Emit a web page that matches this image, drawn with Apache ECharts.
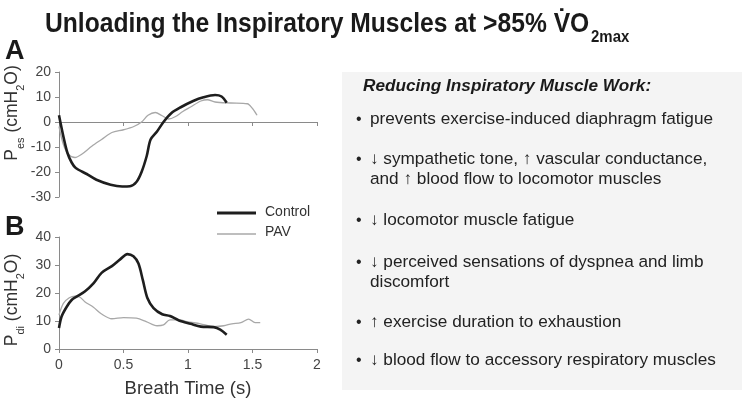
<!DOCTYPE html>
<html><head><meta charset="utf-8">
<script src="https://cdn.jsdelivr.net/npm/echarts@6/dist/echarts.min.js"></script>
<style>html,body{margin:0;padding:0;background:#fff;}#c{width:742px;height:401px;}</style>
</head><body><div id="c"></div>
<script>
// Panel A (Pes) data
const ctrlA_t = [0, 0.034, 0.065, 0.098, 0.13, 0.215, 0.29, 0.40, 0.49, 0.55, 0.60, 0.64, 0.68, 0.71, 0.76, 0.81, 0.87, 0.94, 1.04, 1.12, 1.21, 1.26, 1.30];
const ctrlA_y = [2.7, -5.8, -12.3, -16.2, -18.4, -20.8, -23.1, -25.1, -25.8, -25.7, -24, -20, -13.6, -7, -3.8, 0, 3.5, 5.8, 8.4, 9.9, 10.8, 10.2, 7.7];
const pavA_t = [0, 0.034, 0.072, 0.124, 0.176, 0.254, 0.33, 0.41, 0.50, 0.58, 0.64, 0.69, 0.746, 0.80, 0.85, 0.90, 0.96, 1.02, 1.10, 1.15, 1.21, 1.33, 1.46, 1.50, 1.535];
const pavA_y = [-1.8, -9, -12.9, -14.2, -12.9, -9.7, -7, -4.2, -3.1, -1.8, 0, 2.7, 3.8, 2.5, 1.2, 2.1, 4.2, 6, 8.4, 8.9, 8, 7.6, 7.3, 5.4, 2.7];
// Panel B (Pdi) data
const ctrlB_t = [0, 0.02, 0.06, 0.098, 0.137, 0.20, 0.267, 0.33, 0.41, 0.474, 0.53, 0.577, 0.616, 0.65, 0.686, 0.733, 0.80, 0.86, 0.93, 1.02, 1.10, 1.20, 1.25, 1.30];
const ctrlB_y = [7.5, 11.6, 15.1, 17.5, 18.7, 20.5, 23.4, 27.2, 29.6, 32, 33.9, 33.1, 30.5, 24.6, 18.1, 14.6, 12.4, 11.8, 10.2, 9, 8, 7.8, 6.9, 5.1];
const pavB_t = [0, 0.034, 0.08, 0.124, 0.163, 0.20, 0.267, 0.33, 0.41, 0.50, 0.60, 0.676, 0.76, 0.81, 0.86, 0.94, 0.99, 1.096, 1.20, 1.277, 1.34, 1.41, 1.47, 1.52, 1.56];
const pavB_y = [12.2, 16.3, 18.3, 18.9, 18.5, 16.9, 14.9, 12.5, 10.8, 11.2, 11, 9.8, 8.3, 8.6, 10.4, 10.4, 9.8, 9, 8, 8.3, 9, 9.4, 10.7, 9.4, 9.4];

const seriesNames = ['Control', 'PAV'];
const xTickLabels = ['0', '0.5', '1', '1.5', '2'];
const titleMain = 'Unloading the Inspiratory Muscles at >85% ';
const heading = 'Reducing Inspiratory Muscle Work:';
const bullets = [
  ['prevents exercise-induced diaphragm fatigue'],
  ['\u2193 sympathetic tone, \u2191 vascular conductance,', 'and \u2191 blood flow to locomotor muscles'],
  ['\u2193 locomotor muscle fatigue'],
  ['\u2193 perceived sensations of dyspnea and limb', 'discomfort'],
  ['\u2191 exercise duration to exhaustion'],
  ['\u2193 blood flow to accessory respiratory muscles']
];

const zip = (a, b) => a.map((v, i) => [v, b[i]]);
const FONT = 'Liberation Sans, Arial, sans-serif';
const axisCol = '#8a8a8a';
const labCol = '#444';

const chart = echarts.init(document.getElementById('c'), null, {renderer: 'canvas'});

const ctrlStyle = {color: '#1e1e1e', width: 2.6};
const pavStyle = {color: '#a8a8a8', width: 1.3};

function xAx(idx, showLabels) {
  return {
    gridIndex: idx, type: 'value', min: 0, max: 2, interval: 0.5,
    axisLine: {show: true, onZero: true, lineStyle: {color: axisCol, width: 1}},
    axisTick: {show: true, length: 4, lineStyle: {color: axisCol}},
    splitLine: {show: false},
    axisLabel: {show: showLabels, color: labCol, fontSize: 14, fontFamily: FONT, margin: 9,
      formatter: v => xTickLabels[Math.round(v / 0.5)]},
    name: showLabels ? 'Breath Time (s)' : '', nameLocation: 'middle', nameGap: 30,
    nameTextStyle: {color: '#333', fontSize: 18.5, fontFamily: FONT}
  };
}
function yAx(idx, min, max) {
  return {
    gridIndex: idx, type: 'value', min: min, max: max, interval: 10,
    axisLine: {show: true, lineStyle: {color: axisCol, width: 1}},
    axisTick: {show: true, length: 4, lineStyle: {color: axisCol}},
    splitLine: {show: false},
    axisLabel: {color: labCol, fontSize: 14, fontFamily: FONT, margin: 8}
  };
}

const TF = 'Liberation Sans, Arial, sans-serif';
const graphics = [
  {type: 'rect', shape: {x: 342, y: 72, width: 400, height: 318}, style: {fill: '#f4f4f4'}, z: -10},
  {type: 'text', x: 45, y: 38, scaleX: 0.88, style: {
    text: '{t|' + titleMain + 'V\u0307O}{s|2max}',
    textVerticalAlign: 'bottom',
    rich: {
      t: {fontFamily: TF, fontWeight: 'bold', fontSize: 28, fill: '#1a1a1a', lineHeight: 30, verticalAlign: 'bottom'},
      s: {fontFamily: TF, fontWeight: 'bold', fontSize: 17, fill: '#1a1a1a', lineHeight: 30, verticalAlign: 'bottom', padding: [0, 0, -8, 2]}
    }}},
  {type: 'text', x: 5, y: 65, style: {text: 'A', font: 'bold 27px ' + FONT, fill: '#1a1a1a', textVerticalAlign: 'bottom'}},
  {type: 'text', x: 5, y: 241, style: {text: 'B', font: 'bold 27px ' + FONT, fill: '#1a1a1a', textVerticalAlign: 'bottom'}},
  {type: 'text', x: 11, y: 113, rotation: Math.PI / 2, style: {
    text: '{m|P}{s|es}{m| (cmH}{s|2}{m|O)}', textAlign: 'center', textVerticalAlign: 'middle',
    rich: {m: {fontSize: 17.5, fontFamily: FONT, fill: '#333', lineHeight: 20, verticalAlign: 'bottom'},
           s: {fontSize: 11, fontFamily: FONT, fill: '#333', lineHeight: 20, verticalAlign: 'bottom', padding: [0, 0, -5, 0]}}}},
  {type: 'text', x: 11, y: 300, rotation: Math.PI / 2, style: {
    text: '{m|P}{s|di}{m| (cmH}{s|2}{m|O)}', textAlign: 'center', textVerticalAlign: 'middle',
    rich: {m: {fontSize: 17.5, fontFamily: FONT, fill: '#333', lineHeight: 20, verticalAlign: 'bottom'},
           s: {fontSize: 11, fontFamily: FONT, fill: '#333', lineHeight: 20, verticalAlign: 'bottom', padding: [0, 0, -5, 0]}}}},
  {type: 'text', x: 363, y: 95, style: {text: heading, font: 'italic bold 17.2px ' + FONT, fill: '#1a1a1a', textVerticalAlign: 'bottom'}},
  // legend
  {type: 'line', shape: {x1: 217, y1: 213, x2: 256, y2: 213}, style: {stroke: ctrlStyle.color, lineWidth: 3}},
  {type: 'text', x: 265, y: 212, style: {text: seriesNames[0], font: '14px ' + FONT, fill: '#333', textVerticalAlign: 'middle'}},
  {type: 'line', shape: {x1: 217, y1: 234, x2: 256, y2: 234}, style: {stroke: pavStyle.color, lineWidth: 1.4}},
  {type: 'text', x: 265, y: 232, style: {text: seriesNames[1], font: '14px ' + FONT, fill: '#333', textVerticalAlign: 'middle'}}
];
const bulletBase = [[128], [168, 188], [229], [271, 291], [331], [369]];
bullets.forEach((lines, i) => {
  graphics.push({type: 'text', x: 356, y: bulletBase[i][0], style: {text: '\u2022', font: '16px ' + FONT, fill: '#222', textVerticalAlign: 'bottom'}});
  lines.forEach((ln, j) => {
    graphics.push({type: 'text', x: 370, y: bulletBase[i][j], style: {text: ln, font: '17.2px ' + FONT, fill: '#222', textVerticalAlign: 'bottom'}});
  });
});

chart.setOption({
  animation: false,
  backgroundColor: '#fff',
  grid: [
    {left: 59, top: 72, width: 258, height: 125},
    {left: 59, top: 237, width: 258, height: 112}
  ],
  xAxis: [xAx(0, false), xAx(1, true)],
  yAxis: [yAx(0, -30, 20), yAx(1, 0, 40)],
  series: [
    {name: seriesNames[1], type: 'line', xAxisIndex: 0, yAxisIndex: 0, data: zip(pavA_t, pavA_y), smooth: 0.3, symbol: 'none', lineStyle: pavStyle, itemStyle: {color: pavStyle.color}},
    {name: seriesNames[0], type: 'line', xAxisIndex: 0, yAxisIndex: 0, data: zip(ctrlA_t, ctrlA_y), smooth: 0.3, symbol: 'none', lineStyle: ctrlStyle, itemStyle: {color: ctrlStyle.color}},
    {name: seriesNames[1], type: 'line', xAxisIndex: 1, yAxisIndex: 1, data: zip(pavB_t, pavB_y), smooth: 0.3, symbol: 'none', lineStyle: pavStyle, itemStyle: {color: pavStyle.color}},
    {name: seriesNames[0], type: 'line', xAxisIndex: 1, yAxisIndex: 1, data: zip(ctrlB_t, ctrlB_y), smooth: 0.3, symbol: 'none', lineStyle: ctrlStyle, itemStyle: {color: ctrlStyle.color}}
  ],
  graphic: graphics
});
</script></body></html>
